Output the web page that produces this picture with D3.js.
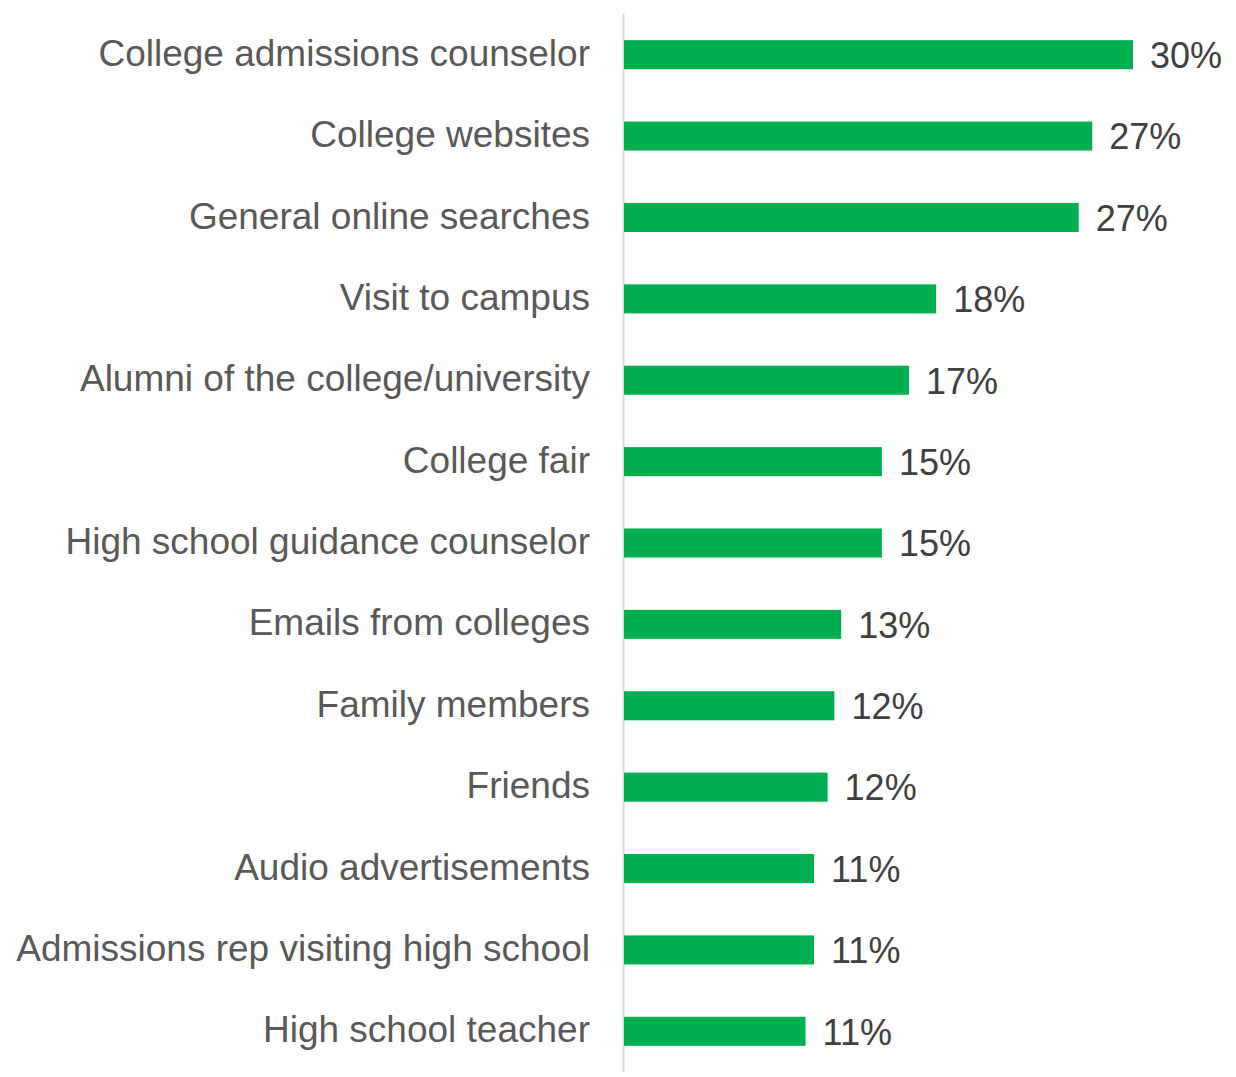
<!DOCTYPE html>
<html lang="en">
<head>
    <meta charset="UTF-8">
    <title>Information sources</title>
    <script src="https://d3js.org/d3.v7.min.js"></script>
    <style>
        body{
            margin: 0;
            background: white;
        }
        #canvas{
            display: block;
        }
        text.cat{
            font-family: "Liberation Sans", Arial, sans-serif;
            font-size: 37px;
            fill: #595959;
        }
        text.val{
            font-family: "Liberation Sans", Arial, sans-serif;
            font-size: 36px;
            fill: #404040;
        }
    </style>
</head>
<body>
<svg id="canvas" width="1236" height="1077"></svg>
<script>
    let categories = [
        "College admissions counselor",
        "College websites",
        "General online searches",
        "Visit to campus",
        "Alumni of the college/university",
        "College fair",
        "High school guidance counselor",
        "Emails from colleges",
        "Family members",
        "Friends",
        "Audio advertisements",
        "Admissions rep visiting high school",
        "High school teacher"
    ]
    let values = [30.0, 27.6, 26.8, 18.4, 16.8, 15.2, 15.2, 12.8, 12.4, 12.0, 11.2, 11.2, 10.7]
    let valueLabels = ["30%", "27%", "27%", "18%", "17%", "15%", "15%", "13%", "12%", "12%", "11%", "11%", "11%"]

    let rows = categories.map(function (c, i){
        return {cat: c, value: values[i], label: valueLabels[i]}
    })

    let svg = d3.select('#canvas')

    let x = d3.scaleLinear()
        .domain([0, 30])
        .range([624, 1133])

    let y = d3.scaleBand()
        .domain(categories)
        .range([14, 1072])
        .paddingInner(0.643)
        .paddingOuter(0.3215)

    // vertical axis line
    svg.append('line')
        .attr('x1', 623.5).attr('x2', 623.5)
        .attr('y1', y.range()[0]).attr('y2', y.range()[1])
        .attr('stroke', '#d9d9d9')
        .attr('stroke-width', 2)

    let g = svg.append('g')

    g.selectAll('rect')
        .data(rows)
        .enter()
        .append('rect')
        .attr('x', x(0))
        .attr('y', function (d){ return y(d.cat) })
        .attr('width', function (d){ return x(d.value) - x(0) })
        .attr('height', y.bandwidth())
        .attr('fill', '#00b050')

    g.selectAll('text.cat')
        .data(rows)
        .enter()
        .append('text')
        .attr('class', 'cat')
        .attr('x', 590)
        .attr('y', function (d){ return y(d.cat) + y.bandwidth() / 2 })
        .attr('dy', '0.3em')
        .attr('text-anchor', 'end')
        .text(function (d){ return d.cat })

    g.selectAll('text.val')
        .data(rows)
        .enter()
        .append('text')
        .attr('class', 'val')
        .attr('x', function (d){ return x(d.value) + 17 })
        .attr('y', function (d){ return y(d.cat) + y.bandwidth() / 2 })
        .attr('dy', '0.37em')
        .text(function (d){ return d.label })
</script>
</body>
</html>
